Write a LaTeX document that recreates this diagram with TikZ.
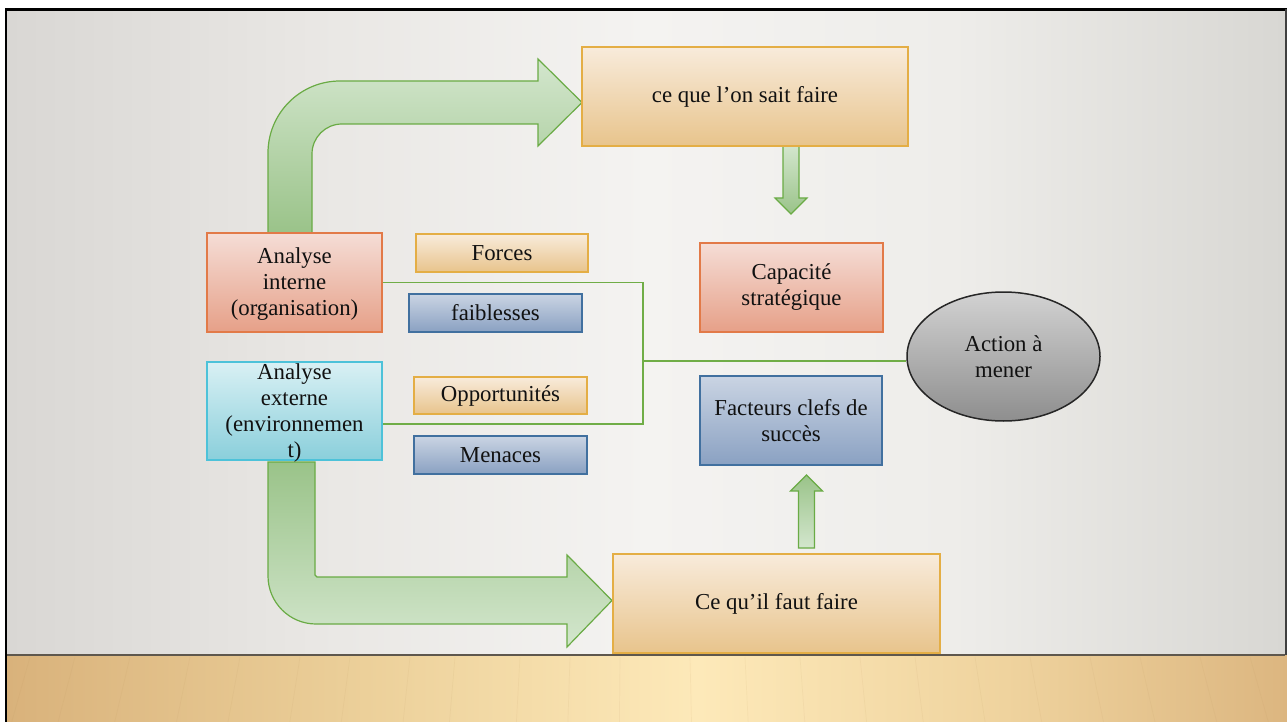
\documentclass[tikz,border=0pt]{standalone}
\usepackage{fontspec}
\setmainfont{Liberation Serif}
\usetikzlibrary{shapes.geometric}

% wall, floor and frame
\definecolor{wallside}{HTML}{D9D7D4}
\definecolor{wallq}{HTML}{E9E7E4}
\definecolor{wallmid}{HTML}{F4F3F1}
\definecolor{wallq2}{HTML}{EEEDEA}
\definecolor{wallsideR}{HTML}{D8D7D3}
\definecolor{woodL}{HTML}{D9B27B}
\definecolor{woodq}{HTML}{ECD09A}
\definecolor{woodM}{HTML}{FDE9B9}
\definecolor{woodq2}{HTML}{EFD39E}
\definecolor{woodR}{HTML}{DCB680}
\definecolor{grain}{HTML}{B08850}
\definecolor{floorline}{HTML}{5E574D}
% block arrows and links
\definecolor{arrowline}{HTML}{6AAB45}
\definecolor{arrowlight}{HTML}{D3E6CD}
\definecolor{arrowdark}{HTML}{9AC389}
\definecolor{linkgreen}{HTML}{70AD47}
% boxes
\definecolor{goldtop}{HTML}{F8EBDB}
\definecolor{goldbot}{HTML}{E8C48C}
\definecolor{goldline}{HTML}{E4AE45}
\definecolor{salmontop}{HTML}{F5DDD6}
\definecolor{salmonbot}{HTML}{E6A088}
\definecolor{salmonline}{HTML}{E27A48}
\definecolor{bluetop}{HTML}{CAD4E3}
\definecolor{bluebot}{HTML}{8AA1C2}
\definecolor{blueline}{HTML}{41709F}
\definecolor{cyantop}{HTML}{D9F0F4}
\definecolor{cyanbot}{HTML}{8ACFDB}
\definecolor{cyanline}{HTML}{4DC2D9}
\definecolor{graytop}{HTML}{D2D2D2}
\definecolor{graybot}{HTML}{8E8E8E}
\definecolor{grayline}{HTML}{262626}
\definecolor{ink}{HTML}{111111}

% horizontal gradients for the wall and the wooden floor
\pgfdeclarehorizontalshading{wallshade}{100bp}{color(0bp)=(wallside); color(25bp)=(wallside);
  color(37bp)=(wallq); color(50bp)=(wallmid); color(62bp)=(wallq2); color(75bp)=(wallsideR); color(100bp)=(wallsideR)}
\pgfdeclarehorizontalshading{woodshade}{100bp}{color(0bp)=(woodL); color(25bp)=(woodL);
  color(39bp)=(woodq); color(52bp)=(woodM); color(64bp)=(woodq2); color(75bp)=(woodR); color(100bp)=(woodR)}

\begin{document}
\begin{tikzpicture}[x=1pt,y=-1pt,
  txt/.style={font=\fontsize{22.8}{26}\selectfont, text=ink, align=center, inner sep=0pt},
  box/.style={txt, rectangle, line width=1.3pt},
  goldbox/.style={box, draw=goldline, top color=goldtop, bottom color=goldbot},
  salmonbox/.style={box, draw=salmonline, top color=salmontop, bottom color=salmonbot},
  bluebox/.style={box, draw=blueline, top color=bluetop, bottom color=bluebot},
  cyanbox/.style={box, draw=cyanline, top color=cyantop, bottom color=cyanbot},
  blockdown/.style={draw=arrowline, line width=1.2pt, top color=arrowlight, bottom color=arrowdark},
  blockup/.style={draw=arrowline, line width=1.2pt, top color=arrowdark, bottom color=arrowlight},
  link/.style={draw=linkgreen, line width=1.5pt}
]
\useasboundingbox (0,0) rectangle (1287,722);

% backdrop: wall and wooden floor
\fill[white] (0,0) rectangle (1287,722);
\shade[shading=wallshade] (7,11) rectangle (1285,655);
\shade[shading=woodshade] (7,655) rectangle (1287,722);
% faint wood grain, nearly upright, fanning out a little towards the viewer
\begin{scope}[draw=grain, opacity=0.08, line width=0.7pt]
  \foreach \gx in {30,75,130,190,240,300,350,410,455,520,570,620,690,745,800,860,915,975,1030,1090,1140,1200,1250}
    \draw (\gx,657) -- ({640+(\gx-640)*1.03},722);
\end{scope}
\draw[floorline, line width=2pt] (7,655) -- (1285,655);
\draw[black, line width=2.2pt] (6,722) -- (6,9.5) -- (1287,9.5);
\draw[black!75, line width=2pt] (1286,9.5) -- (1286,655);

% bent arrow: internal analysis -> what we know how to do
\path[blockdown] (268,233) -- (268,153)
  .. controls (268,113.2) and (300.2,81) .. (340,81)
  -- (538,81) -- (538,59) -- (582,102.5) -- (538,146) -- (538,124) -- (342,124)
  .. controls (325.4,124) and (312,137.4) .. (312,154)
  -- (312,233) -- cycle;

% bent arrow: external analysis -> what must be done
\path[blockup] (268,462) -- (268,576)
  .. controls (268,602.5) and (289.5,624) .. (316,624)
  -- (567,624) -- (567,647) -- (612,600.5) -- (567,555) -- (567,577) -- (317,577)
  -- (315,575) -- (315,462) -- cycle;

% small straight arrows
\path[blockdown] (783,146) -- (783,198) -- (775,198) -- (791,214) -- (807,198) -- (799,198) -- (799,146) -- cycle;
\path[blockup] (798.5,548) -- (798.5,491) -- (790.5,491) -- (806.5,475) -- (822.5,491) -- (814.5,491) -- (814.5,548) -- cycle;

% boxes
\node[goldbox, minimum width=326pt, minimum height=99pt] (see) at (745,96.5) {ce que l’on sait faire};
\node[salmonbox, minimum width=175pt, minimum height=99pt] (ai) at (294.5,282.5) {};
\node[txt] (ait) at ([yshift=-2pt]ai.center) {Analyse\\interne\\(organisation)};
\node[cyanbox, minimum width=175pt, minimum height=98pt] (ae) at (294.5,411) {};
\node[txt] (aet) at ([yshift=-2.5pt]ae.center) {Analyse\\externe\\(environnemen\\t)};
\node[goldbox, minimum width=172pt, minimum height=38pt] (forces) at (502,253) {Forces};
\node[bluebox, minimum width=173pt, minimum height=38pt] (faib) at (495.5,313) {faiblesses};
\node[goldbox, minimum width=173pt, minimum height=37pt] (opp) at (500.5,395.5) {Opportunités};
\node[bluebox, minimum width=173pt, minimum height=38pt] (men) at (500.5,455) {Menaces};
\node[salmonbox, minimum width=183pt, minimum height=89pt] (cap) at (791.5,287.5) {Capacité\\stratégique};
\node[bluebox, minimum width=182pt, minimum height=89pt] (fcs) at (791,420.5) {Facteurs clefs de\\succès};
\node[goldbox, minimum width=327pt, minimum height=99pt] (cqf) at (776.5,603.5) {Ce qu’il faut faire};
\node[txt, ellipse, draw=grayline, line width=1.5pt, top color=graytop, bottom color=graybot,
      minimum width=193pt, minimum height=129pt] (act) at (1003.5,356.5) {Action à\\mener};

% links joining both analyses to the action
\coordinate (jb) at (643,424);
\coordinate (jm) at (643,361);
\draw[link] (ai.east) -| (jb) -- (ae.east |- jb);
\draw[link] (jm) -- (act.west |- jm);
\end{tikzpicture}
\end{document}
